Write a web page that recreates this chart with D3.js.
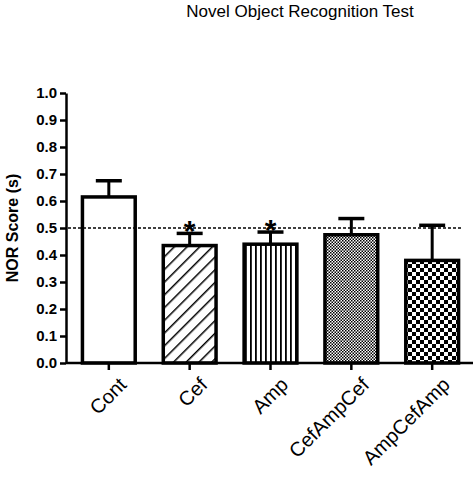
<!DOCTYPE html>
<html><head><meta charset="utf-8">
<script src="https://cdn.jsdelivr.net/npm/d3@7"></script>
<style>body{margin:0;background:#fff}text{font-family:"Liberation Sans",Arial,sans-serif}</style>
</head><body><div id="chart"></div>
<script>
const groups = ['Cont', 'Cef', 'Amp', 'CefAmpCef', 'AmpCefAmp'];
const means = [0.615, 0.435, 0.44, 0.475, 0.38];
const errs = [0.06, 0.045, 0.045, 0.06, 0.13];
const starred = [false, true, true, false, false];
const patterns = ['none', 'diag', 'vert', 'fine', 'check'];
const yTicks = d3.range(0, 1.01, 0.1);

const width = 474, height = 492;
const svg = d3.select('#chart').append('svg').attr('width', width).attr('height', height);

const defs = svg.append('defs');
let p = defs.append('pattern').attr('id', 'diag').attr('patternUnits', 'userSpaceOnUse')
  .attr('width', 9).attr('height', 9).attr('patternTransform', 'rotate(45)');
p.append('rect').attr('width', 9).attr('height', 9).attr('fill', '#fff');
p.append('line').attr('x1', 0).attr('y1', 0).attr('x2', 0).attr('y2', 9).attr('stroke', '#000').attr('stroke-width', 3);
p = defs.append('pattern').attr('id', 'vert').attr('patternUnits', 'userSpaceOnUse').attr('width', 5).attr('height', 5);
p.append('rect').attr('width', 5).attr('height', 5).attr('fill', '#fff');
p.append('rect').attr('width', 1.8).attr('height', 5).attr('fill', '#000');
p = defs.append('pattern').attr('id', 'fine').attr('patternUnits', 'userSpaceOnUse').attr('width', 3).attr('height', 3);
p.append('rect').attr('width', 3).attr('height', 3).attr('fill', '#fff');
p.append('rect').attr('width', 1.5).attr('height', 1.5).attr('fill', '#000');
p.append('rect').attr('x', 1.5).attr('y', 1.5).attr('width', 1.5).attr('height', 1.5).attr('fill', '#000');
p = defs.append('pattern').attr('id', 'check').attr('patternUnits', 'userSpaceOnUse').attr('width', 8).attr('height', 8);
p.append('rect').attr('width', 8).attr('height', 8).attr('fill', '#fff');
p.append('rect').attr('width', 4).attr('height', 4).attr('fill', '#000');
p.append('rect').attr('x', 4).attr('y', 4).attr('width', 4).attr('height', 4).attr('fill', '#000');

const x = d3.scaleBand().domain(groups).range([68, 473]).paddingInner(0.31).paddingOuter(0.16);
const y = d3.scaleLinear().domain([0, 1]).range([363, 93]);

svg.append('text').attr('x', 300).attr('y', 17).attr('text-anchor', 'middle')
  .attr('font-size', 17).text('Novel Object Recognition Test');

// error bars (upper only)
const g = svg.append('g');
groups.forEach((k, i) => {
  const cx = x(k) + x.bandwidth() / 2;
  g.append('line').attr('x1', cx).attr('x2', cx).attr('y1', y(means[i])).attr('y2', y(means[i] + errs[i]))
    .attr('stroke', '#000').attr('stroke-width', 3);
  g.append('line').attr('x1', cx - 13).attr('x2', cx + 13).attr('y1', y(means[i] + errs[i])).attr('y2', y(means[i] + errs[i]))
    .attr('stroke', '#000').attr('stroke-width', 3.5);
});

svg.append('g').selectAll('rect').data(groups).enter().append('rect')
  .attr('x', d => x(d) + 1.5).attr('width', x.bandwidth() - 3)
  .attr('y', (d, i) => y(means[i])).attr('height', (d, i) => y(0) - y(means[i]))
  .attr('fill', (d, i) => patterns[i] === 'none' ? '#fff' : 'url(#' + patterns[i] + ')')
  .attr('stroke', '#000').attr('stroke-width', 3.5);

svg.append('line').attr('x1', 68).attr('x2', 462).attr('y1', y(0.5)).attr('y2', y(0.5))
  .attr('stroke', '#000').attr('stroke-width', 1.3).attr('stroke-dasharray', '3,2');

svg.append('g').selectAll('text.star').data(groups).enter().filter((d, i) => starred[i]).append('text')
  .attr('x', d => x(d) + x.bandwidth() / 2).attr('y', (d) => y(means[groups.indexOf(d)] + errs[groups.indexOf(d)]) + 8)
  .attr('text-anchor', 'middle').attr('font-size', 30).attr('font-weight', 'bold').text('*');

const yAxis = svg.append('g').attr('transform', 'translate(66,0)')
  .call(d3.axisLeft(y).tickValues(yTicks).tickFormat(d3.format('.1f')).tickSize(6).tickSizeOuter(0));
yAxis.selectAll('path,line').attr('stroke-width', 2.5);
yAxis.selectAll('text').attr('font-size', 15).attr('font-weight', 'bold').attr('fill', '#000');

const xAxis = svg.append('g').attr('transform', 'translate(0,363)')
  .call(d3.axisBottom(x).tickSize(7).tickSizeOuter(0));
xAxis.select('path').attr('d', 'M66,0H473').attr('stroke-width', 2.5);
xAxis.selectAll('line').attr('stroke-width', 2.5);
xAxis.selectAll('text').attr('font-size', 20).attr('fill', '#000')
  .attr('text-anchor', 'end').attr('transform', 'translate(2,6) rotate(-45)').attr('dy', '0.7em');

svg.append('text').attr('transform', 'translate(18,228) rotate(-90)').attr('text-anchor', 'middle')
  .attr('font-size', 16).attr('font-weight', 'bold').text('NOR Score (s)');
</script></body></html>
